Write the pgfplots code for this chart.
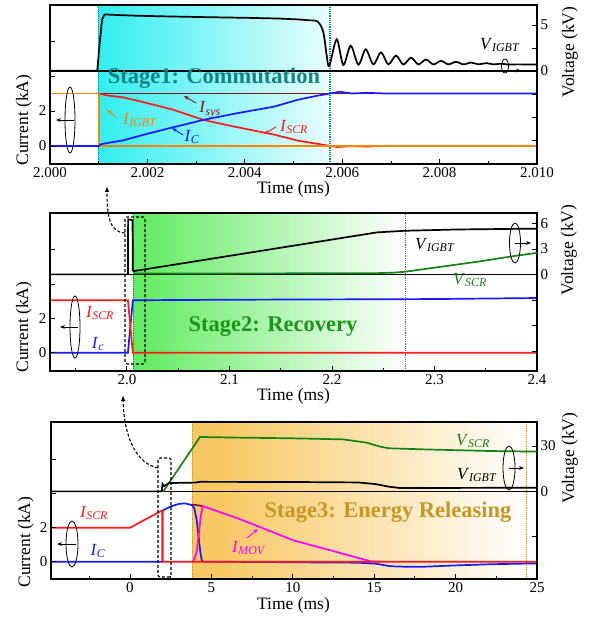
\documentclass[border=0pt]{standalone}
\usepackage{fontspec}
\setmainfont{Liberation Serif}
\usepackage{pgfplots}
\pgfplotsset{compat=1.18}
\usetikzlibrary{arrows.meta}

\definecolor{myred}{RGB}{255,25,25}
\definecolor{myblue}{RGB}{25,25,255}
\definecolor{myorange}{RGB}{255,130,0}
\definecolor{mymaroon}{RGB}{140,20,20}
\definecolor{mygreen}{RGB}{20,130,20}
\definecolor{mymag}{RGB}{255,0,255}
\definecolor{teal1}{RGB}{20,130,130}
\definecolor{cyanL}{RGB}{50,238,240}
\definecolor{greenL}{RGB}{95,235,95}
\definecolor{orangeL}{RGB}{248,200,100}
\definecolor{stagetwo}{RGB}{25,150,25}
\definecolor{stagethree}{RGB}{200,150,35}

\newcommand{\tf}{\fontsize{15}{15}\selectfont}
\newcommand{\lf}{\fontsize{17.5}{17.5}\selectfont}
\newcommand{\stf}{\bfseries\fontsize{22.5}{22.5}\selectfont}
\newcommand{\sub}[2]{{\fontsize{17}{17}\selectfont\textit{#1}\textsubscript{\textit{#2}}}}

\pgfplotsset{
  common/.style={
    scale only axis, width=487pt,
    axis line style={line width=1.2pt},
    tick style={line width=0.8pt, black},
    major tick length=5pt, minor tick length=3pt,
    tick align=inside,
    ticklabel style={font=\tf},
    /pgf/number format/assume math mode=true,
    every axis plot/.append style={line width=1.7pt, no markers},
  },
  cur/.style={common, xtick pos=bottom, ytick pos=left, axis on top,
    ytick={0,2,4,6}, yticklabels={0,2,,}},
  volt/.style={common, axis x line=none, axis y line*=right},
}
\tikzset{dsh/.style={line width=1.1pt, dash pattern=on 3pt off 2pt}}

\begin{document}
\begin{tikzpicture}
\useasboundingbox (0pt,0pt) rectangle (595pt,619pt);

% ================= Panel 1 =================
\begin{axis}[cur, at={(50pt,455pt)}, anchor=south west, height=159pt,
  xmin=2.000, xmax=2.010, ymin=-1.03, ymax=8.06,
  xtick={2.000,2.002,2.004,2.006,2.008,2.010},
  xticklabels={2.000,2.002,2.004,2.006,2.008,2.010},
  minor xtick={2.001,2.003,2.005,2.007,2.009}]
\fill[left color=cyanL, right color=cyanL!10!white] (axis cs:2.001,-1.03) rectangle (axis cs:2.00575,8.06);
\draw[teal1, densely dotted, line width=1.2pt] (axis cs:2.001,-1.03) -- (axis cs:2.001,8.06);
\draw[teal1, densely dotted, line width=1.2pt] (axis cs:2.00575,-1.03) -- (axis cs:2.00575,8.06);
\addplot[mymaroon] coordinates {(2.001,3)(2.010,3)};
\addplot[myred] coordinates {(2.001,3)(2.0012,2.88)(2.0015,2.78)(2.00185,2.55)(2.0025,2.1)(2.00315,1.49)(2.0038,1.1)(2.0046,0.65)(2.0051,0.3)(2.0055,0.12)(2.00575,0.0)(2.0059,-0.06)(2.0062,0.0)(2.0065,-0.04)(2.0068,0.0)(2.010,0)};
\addplot[myorange] coordinates {(2.000,3)(2.001,3)(2.001,0)(2.010,0)};
\addplot[myblue] coordinates {(2.000,0)(2.001,0)(2.00105,0.1)(2.0012,0.18)(2.0015,0.32)(2.002,0.7)(2.0025,1.05)(2.00315,1.49)(2.0038,1.85)(2.0046,2.25)(2.0051,2.65)(2.0055,2.88)(2.00575,3.0)(2.00595,3.1)(2.0062,3.0)(2.0065,3.04)(2.0069,3.0)(2.010,3.0)};
\end{axis}
\begin{axis}[volt, at={(50pt,455pt)}, anchor=south west, height=159pt,
  xmin=2.000, xmax=2.010, ymin=-10.1, ymax=7.17,
  ytick={-7.5,-5,-2.5,0,2.5,5}, yticklabels={,,,0,,5}]
\draw[line width=1.2pt] (axis cs:2.000,0) -- (axis cs:2.010,0);
\addplot[black] coordinates {(2.000,0.03)(2.00097,0.03)(2.00102,3.0)(2.00107,5.6)(2.00112,6.15)(2.0013,6.1)(2.0018,6.0)(2.0025,5.92)(2.0032,5.85)(2.004,5.78)(2.0047,5.7)(2.0051,5.6)(2.00535,5.5)};
\addplot[black, smooth, tension=0.5] coordinates {(2.00535,5.5)(2.0055,5.35)(2.00561,4.27)(2.00568,1.74)(2.005735,0.54)(2.005887,3.45)(2.006023,0.65)(2.006175,2.75)(2.006332,0.68)(2.006483,2.36)(2.006639,0.72)(2.006797,2.02)(2.006947,0.72)(2.007105,1.68)(2.007255,0.70)(2.007413,1.45)(2.007563,0.72)(2.007721,1.25)(2.007871,0.72)(2.008029,1.1)(2.008179,0.72)(2.008337,1.0)(2.00849,0.72)(2.00865,0.92)(2.0088,0.72)(2.00896,0.86)(2.0091,0.72)(2.00927,0.80)(2.0094,0.70)(2.0096,0.72)(2.010,0.70)};
\end{axis}

% ================= Panel 2 =================
\begin{axis}[cur, at={(50pt,248pt)}, anchor=south west, height=158pt,
  xmin=1.925, xmax=2.4, ymin=-1.06, ymax=8.12,
  xtick={2.0,2.1,2.2,2.3,2.4}, xticklabels={2.0,2.1,2.2,2.3,2.4},
  minor xtick={1.95,2.05,2.15,2.25,2.35}]
\fill[left color=greenL, right color=white] (axis cs:2.0065,-1.06) rectangle (axis cs:2.2715,8.12);
\draw[stagetwo, densely dotted, line width=1.2pt] (axis cs:2.0065,-1.06) -- (axis cs:2.0065,8.12);
\draw[stagetwo, densely dotted, line width=1.2pt] (axis cs:2.2715,-1.06) -- (axis cs:2.2715,8.12);
\addplot[myblue] coordinates {(1.925,0)(2.001,0)(2.0058,3.05)(2.1,3.08)(2.3,3.12)(2.4,3.18)};
\addplot[myred] coordinates {(1.925,3.05)(2.001,3.05)(2.0058,0)(2.4,0)};
\end{axis}
\begin{axis}[volt, at={(50pt,248pt)}, anchor=south west, height=158pt,
  xmin=1.925, xmax=2.4, ymin=-11.35, ymax=7.24,
  ytick={-9,-6,-3,0,3,6}, yticklabels={,,,0,3,6}]
\draw[line width=1.2pt] (axis cs:1.925,0) -- (axis cs:2.4,0);
\addplot[mygreen] coordinates {(2.0058,0.12)(2.24,0.15)(2.26,0.22)(2.2715,0.33)(2.3024,0.85)(2.3415,1.5)(2.379,2.2)(2.4,2.55)};
\addplot[black] coordinates {(1.925,0.02)(2.001,0.02)(2.0012,6.5)(2.0055,6.4)(2.0058,0.5)(2.0065,0.4)(2.244,4.96)(2.2715,5.15)(2.322,5.3)(2.4,5.4)};
\end{axis}

% ================= Panel 3 =================
\begin{axis}[cur, at={(51pt,40pt)}, anchor=south west, width=486pt, height=157pt,
  xmin=-4.85, xmax=25, ymin=-1.02, ymax=8.22,
  xtick={0,5,10,15,20,25}, xticklabels={0,5,10,15,20,25},
  minor xtick={-2.5,2.5,7.5,12.5,17.5,22.5}]
\fill[orangeL] (axis cs:3.84,-1.02) rectangle (axis cs:5.5,8.22);
\fill[left color=orangeL, right color=white] (axis cs:5.5,-1.02) rectangle (axis cs:24.34,8.22);
\draw[stagethree, densely dotted, line width=1.2pt] (axis cs:3.84,-1.02) -- (axis cs:3.84,8.22);
\draw[stagethree, densely dotted, line width=1.2pt] (axis cs:24.34,-1.02) -- (axis cs:24.34,8.22);
\addplot[mymaroon] coordinates {(3.8,3.36)(4.1,3.33)(4.47,3.27)};
\addplot[myblue] coordinates {(-4.85,0)(2.0,0)(2.0,3.0)(2.5,3.25)(3.0,3.4)(3.4,3.43)(3.8,3.33)(3.95,3.15)(4.1,2.45)(4.2,1.6)(4.26,1.1)(4.33,0.5)(4.41,0.08)(4.5,0)(8,-0.02)(12,-0.05)(14,-0.06)(15.1,-0.12)(16,-0.27)(17,-0.3)(18,-0.3)(20,-0.22)(22.2,-0.15)(25,-0.1)};
\addplot[mymag] coordinates {(3.89,0)(4.1,0.6)(4.25,1.8)(4.35,2.7)(4.47,3.27)(6.76,2.5)(10.04,1.25)(12,0.75)(13.9,0.25)(14.8,0.02)(15.5,0)};
\addplot[myred] coordinates {(-4.85,2)(0,2)(1.95,3.0)(2.0,3.0)(2.0,0)(25,0)};
\end{axis}
\begin{axis}[volt, at={(51pt,40pt)}, anchor=south west, width=486pt, height=157pt,
  xmin=-4.85, xmax=25, ymin=-58, ymax=45.9,
  ytick={-30,0,30}, yticklabels={,0,30}]
\draw[line width=1.2pt] (axis cs:-4.85,0) -- (axis cs:25,0);
\addplot[mygreen] coordinates {(2.05,0)(4.3,36)(6.35,35.6)(10,35.1)(13.1,34.4)(14.55,32.2)(15.4,29.5)(15.9,28.5)(18,27.8)(22.1,26.7)(25,26.3)};
\addplot[black] coordinates {(-4.85,0)(1.95,0)(2.0,5)(2.1,3.5)(2.4,5.5)(4.0,5.8)(4.3,6.3)(10,6.2)(14,5.9)(15.1,4.8)(15.9,3.1)(16.6,2.2)(25,2.4)};
\end{axis}

% ================= Annotations (pixel coordinates) =================
\begin{scope}[shift={(0pt,619pt)}, x=1pt, y=-1pt]
\foreach \yy in {189,396,605} \node[font=\lf] at (293.5,\yy) {Time (ms)};
\node[font=\lf, rotate=90] at (24,120) {Current (kA)};
\node[font=\lf, rotate=90] at (24,327) {Current (kA)};
\node[font=\lf, rotate=90] at (26,542) {Current (kA)};
\node[font=\lf, rotate=90] at (570,52) {Voltage (kV)};
\node[font=\lf, rotate=90] at (569,250) {Voltage (kV)};
\node[font=\lf, rotate=90] at (570,458) {Voltage (kV)};

% Panel 1
\node[teal1, font=\stf] at (214,78) {Stage1: Commutation};
\node[myorange] at (140,120) {\sub{I}{IGBT}};
\draw[myorange, line width=0.9pt, -{Stealth[length=5pt]}] (116,117) -- (107,110);
\node[mymaroon] at (210,110) {\sub{I}{sys}};
\draw[mymaroon, line width=0.9pt, -{Stealth[length=5pt]}] (196,103) -- (184,96);
\node[myblue] at (192,137) {\sub{I}{C}};
\draw[myblue, line width=0.9pt, -{Stealth[length=5pt]}] (183,135) -- (172,128);
\node[myred] at (294,127) {\sub{I}{SCR}};
\draw[myred, line width=0.9pt, -{Stealth[length=5pt]}] (276,127) -- (264,134);
\node at (500,45) {\sub{V}{IGBT}};
\draw[line width=0.8pt] (70,120) ellipse [x radius=5pt, y radius=33pt];
\draw[line width=0.8pt, -{Stealth[length=5pt]}] (74,120) -- (56,120);
\draw[line width=0.8pt] (505,66) ellipse [x radius=3.5pt, y radius=7pt];
\draw[line width=0.8pt, -{Stealth[length=5pt]}] (505,70.5) -- (521,70.5);

% Panel 2
\node[myred] at (100,313) {\sub{I}{SCR}};
\node[myblue] at (98,344) {\sub{I}{c}};
\node[stagetwo, font=\stf] at (273,327) {Stage2: Recovery};
\node at (435,245) {\sub{V}{IGBT}};
\node[mygreen] at (470,280) {\sub{V}{SCR}};
\draw[line width=0.8pt] (75,327) ellipse [x radius=5pt, y radius=31pt];
\draw[line width=0.8pt, -{Stealth[length=5pt]}] (78,327) -- (60,327);
\draw[line width=0.8pt] (515,243) ellipse [x radius=5.5pt, y radius=20pt];
\draw[line width=0.8pt, -{Stealth[length=5pt]}] (515,243) -- (531,243);
\draw[dsh, rounded corners=2pt] (125,217) rectangle (145,364);
\draw[dsh, -{Latex[length=6pt]}] (125,233) .. controls (110,232) and (107,218) .. (107,186);

% Panel 3
\node[myred] at (94,513) {\sub{I}{SCR}};
\node[myblue] at (98,551) {\sub{I}{C}};
\node[mymag] at (249,548) {\sub{I}{MOV}};
\draw[mymag, line width=0.9pt, -{Stealth[length=5pt]}] (247,538) -- (258,529);
\node[stagethree, font=\stf] at (388,512) {Stage3: Energy Releasing};
\node[mygreen] at (473,441) {\sub{V}{SCR}};
\node at (477,475) {\sub{V}{IGBT}};
\draw[line width=0.8pt] (72,544) ellipse [x radius=6pt, y radius=23pt];
\draw[line width=0.8pt, -{Stealth[length=5pt]}] (76,544) -- (57,544);
\draw[line width=0.8pt] (509,468) ellipse [x radius=6pt, y radius=22pt];
\draw[line width=0.8pt, -{Stealth[length=5pt]}] (509,468) -- (524,468);
\draw[dsh, rounded corners=2pt] (158,458) rectangle (171,577);
\draw[dsh, -{Latex[length=6pt]}] (158,468) .. controls (138,464) and (124,440) .. (123,395);
\end{scope}
\end{tikzpicture}
\end{document}
